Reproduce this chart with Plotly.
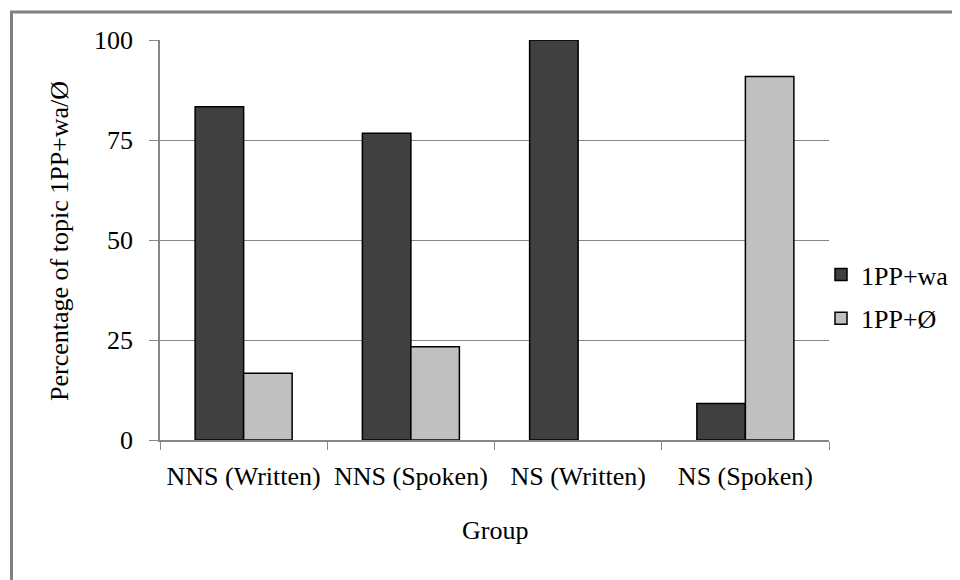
import plotly.graph_objects as go

categories = ["NNS (Written)", "NNS (Spoken)", "NS (Written)", "NS (Spoken)"]
wa_values = [83.3, 76.7, 100.0, 9.1]
zero_values = [16.7, 23.3, 0.0, 90.9]
series_names = ["1PP+wa", "1PP+Ø"]
y_ticks = [0, 25, 50, 75, 100]

FONT = "'Liberation Serif', 'Times New Roman', serif"
GRID = "#868686"

# page has an 8px body margin: figure is drawn at page offset (8, 8)
OFF = 8
W, H = 952, 572
L, T = 160 - OFF, 40 - OFF
R = W - (829 - OFF)
B = H - (440 - OFF)
pw = W - L - R
ph = H - T - B


def px_x(x):  # page pixel -> paper coordinate
    return (x - OFF - L) / pw


def px_y(y):
    return (H - B - (y - OFF)) / ph


fig = go.Figure()
fig.add_trace(go.Bar(x=categories, y=wa_values, name=series_names[0],
                     marker=dict(color="#404040", line=dict(color="black", width=1.5)),
                     legendgroup="a"))
fig.add_trace(go.Bar(x=categories, y=zero_values, name=series_names[1],
                     marker=dict(color="#C0C0C0",
                                 line=dict(color="black",
                                           width=[1.5 if v > 0 else 0 for v in zero_values])),
                     legendgroup="b"))

fig.update_layout(
    width=W, height=H,
    margin=dict(l=L, r=R, t=T, b=B, pad=0, autoexpand=False),
    paper_bgcolor="white", plot_bgcolor="white",
    font=dict(family=FONT, size=26, color="black"),
    barmode="group", bargap=0.42, bargroupgap=0,
    showlegend=True,
    legend=dict(x=px_x(821), y=px_y(251), xanchor="left", yanchor="top",
                font=dict(family=FONT, size=26), tracegroupgap=7,
                itemwidth=30, bgcolor="rgba(0,0,0,0)"),
    xaxis=dict(showline=True, linecolor=GRID, linewidth=1.5,
               ticks="outside", ticklen=8, tickcolor=GRID, tickwidth=1,
               tickson="boundaries", showgrid=False, ticklabelstandoff=12),
    yaxis=dict(range=[0, 100], tickvals=y_ticks, showline=True, linecolor=GRID, linewidth=1.5,
               ticks="outside", ticklen=9, tickcolor=GRID, tickwidth=1,
               showgrid=True, gridcolor=GRID, gridwidth=1, zeroline=False,
               ticklabelstandoff=11),
    annotations=[
        dict(text="Group", x=0.5, y=px_y(530), xref="paper", yref="paper",
             xanchor="center", yanchor="middle", showarrow=False,
             font=dict(family=FONT, size=26)),
        dict(text="Percentage of topic 1PP+wa/Ø", x=px_x(60), y=px_y(241),
             xref="paper", yref="paper", xanchor="center", yanchor="middle",
             textangle=-90, showarrow=False, font=dict(family=FONT, size=26)),
    ],
    shapes=[
        dict(type="line", xref="paper", yref="paper", x0=px_x(10), x1=px_x(962),
             y0=px_y(12), y1=px_y(12), line=dict(color="#808080", width=3)),
        dict(type="line", xref="paper", yref="paper", x0=px_x(11.5), x1=px_x(11.5),
             y0=px_y(12), y1=px_y(582), line=dict(color="#808080", width=3)),
    ],
)

fig.write_html("out.html")
